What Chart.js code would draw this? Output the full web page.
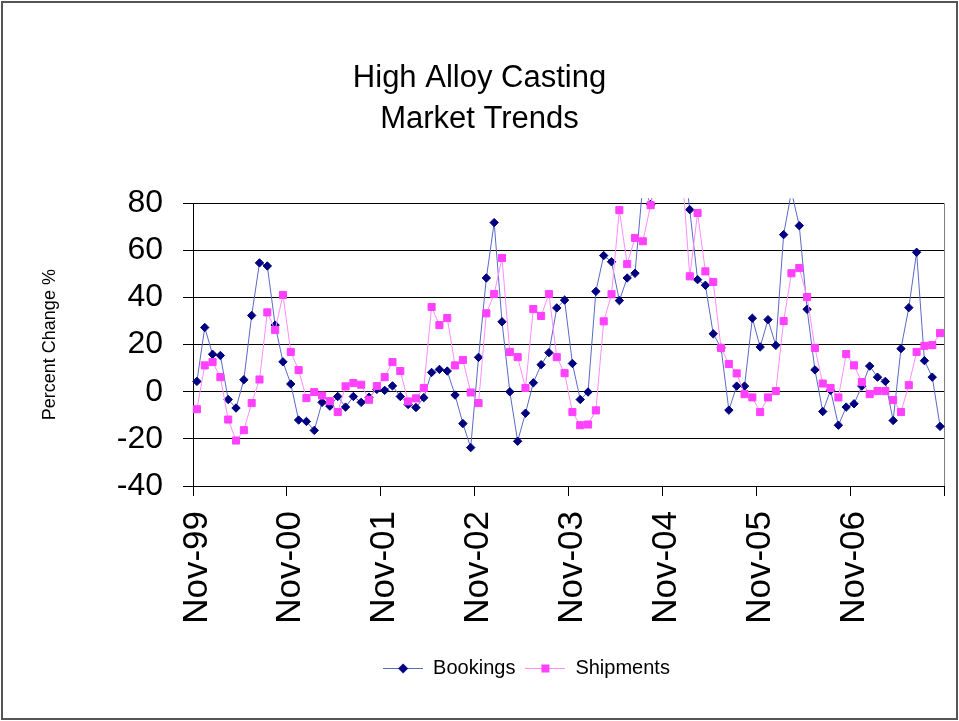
<!DOCTYPE html>
<html>
<head>
<meta charset="utf-8">
<script src="https://cdn.jsdelivr.net/npm/chart.js@4.4.1/dist/chart.umd.min.js"></script>
<style>
  html, body { margin: 0; padding: 0; background: #fff; }
  #wrap { width: 959px; height: 721px; position: relative; }
  canvas { display: block; }
</style>
</head>
<body>
<div id="wrap"><canvas id="c" width="959" height="721"></canvas></div>
<script>
// ---------- DATA ----------
const MONTHS = ['Jan','Feb','Mar','Apr','May','Jun','Jul','Aug','Sep','Oct','Nov','Dec'];
// monthly categories, Nov-99 .. Oct-07
const categories = [];
for (let i = 0; i < 96; i++) {
  const m = (10 + i) % 12;
  const y = 1999 + Math.floor((10 + i) / 12);
  categories.push(MONTHS[m] + '-' + String(y % 100).padStart(2, '0'));
}
const tickLabels = ['Nov-99','Nov-00','Nov-01','Nov-02','Nov-03','Nov-04','Nov-05','Nov-06'];

const bookings = [
  4.4, 27.3, 15.9, 15.4, -3.3, -6.9, 5.1, 32.4, 54.7, 53.4, 28.3, 12.7,
  3.3, -12.0, -12.6, -16.4, -4.5, -6.1, -2.0, -6.5, -2.0, -4.5, -2.3, 1.0,
  0.6, 2.5, -2.0, -5.4, -6.7, -2.5, 8.2, 9.5, 8.8, -1.4, -13.5, -23.7,
  14.6, 48.3, 71.8, 29.7, 0.0, -21.0, -9.1, 3.8, 11.5, 16.6, 35.6, 38.9,
  12.0, -3.3, -0.1, 42.6, 57.8, 55.2, 38.7, 48.3, 50.3, 88, 79.5, 100,
  112, 115, 105, 77.3, 47.6, 45.2, 24.6, 18.6, -7.8, 2.4, 2.4, 31.2,
  19.0, 30.6, 19.7, 66.7, 85, 70.5, 35.0, 9.3, -8.4, 0.6, -14.2, -6.5,
  -5.1, 2.4, 10.9, 6.2, 4.4, -12.2, 18.3, 35.7, 59.2, 13.2, 6.2, -14.7
];
const shipments = [
  -7.4, 11.2, 12.6, 6.2, -11.8, -20.7, -16.3, -4.8, 5.2, 33.7, 26.2, 41.1,
  16.9, 9.2, -2.7, -0.1, -1.6, -4.0, -8.6, 2.3, 3.7, 3.0, -3.4, 2.4,
  6.2, 12.6, 8.8, -4.1, -2.8, 1.6, 36.0, 28.3, 31.3, 11.2, 13.5, -0.3,
  -4.8, 33.3, 41.5, 56.8, 16.9, 14.7, 1.6, 35.1, 32.2, 41.5, 14.7, 7.9,
  -8.6, -14.2, -13.9, -7.9, 29.9, 41.4, 77.1, 54.2, 65.3, 63.9, 79.2, 95,
  105, 110, 95, 49.0, 75.9, 51.1, 46.6, 18.6, 11.8, 7.8, -1.0, -2.4,
  -8.6, -2.4, 0.3, 30.0, 50.3, 52.5, 40.2, 18.6, 3.5, 1.6, -2.4, 16.0,
  11.2, 4.1, -1.0, 0.3, 0.3, -3.5, -8.6, 2.8, 16.9, 19.5, 19.8, 24.9
];
const yTicks = { min: -40, max: 80, step: 20 };

// ---------- STYLE ----------
const BOOK_LINE = '#5a6ac6', BOOK_MARK = '#000080';
const SHIP_LINE = '#ff8cff', SHIP_MARK = '#ff40ff';
const FONT = "'Liberation Sans', Arial, sans-serif";
Chart.defaults.font.family = FONT;
Chart.defaults.color = '#000';

function legendIcon(lineColor, markColor, kind) {
  const c = document.createElement('canvas');
  c.width = 40; c.height = 12;
  const g = c.getContext('2d');
  g.strokeStyle = lineColor; g.lineWidth = 1;
  g.beginPath(); g.moveTo(0, 6.5); g.lineTo(40, 6.5); g.stroke();
  g.fillStyle = markColor;
  g.beginPath();
  if (kind === 'diamond') {
    g.moveTo(20, 1.5); g.lineTo(25, 6.5); g.lineTo(20, 11.5); g.lineTo(15, 6.5); g.closePath();
  } else {
    g.rect(16, 2.5, 8, 8);
  }
  g.fill();
  return c;
}
const legendIcons = [legendIcon(BOOK_LINE, BOOK_MARK, 'diamond'), legendIcon(SHIP_LINE, SHIP_MARK, 'square')];

const frame = {
  id: 'frame',
  beforeDraw(chart) {
    const ctx = chart.ctx;
    ctx.save();
    ctx.fillStyle = '#fff';
    ctx.fillRect(0, 0, chart.width, chart.height);
    ctx.strokeStyle = '#555';
    ctx.lineWidth = 2;
    ctx.strokeRect(2, 2, chart.width - 4, chart.height - 4);
    ctx.restore();
  },
  beforeDatasetsDraw(chart) {
    const a = chart.chartArea, ctx = chart.ctx;
    ctx.save();
    ctx.strokeStyle = '#808080';
    ctx.lineWidth = 1;
    ctx.beginPath();
    ctx.moveTo(Math.round(a.right) + 0.5, a.top);
    ctx.lineTo(Math.round(a.right) + 0.5, a.bottom);
    ctx.stroke();
    ctx.restore();
  }
};
const legendShift = {
  id: 'legendShift',
  afterLayout(chart) {
    if (chart.legend) { chart.legend.left += 47; chart.legend.right += 47; }
  }
};

const CLIP = { left: 6, right: 6, top: 5, bottom: 6 };

new Chart(document.getElementById('c'), {
  type: 'line',
  data: {
    labels: categories,
    datasets: [
      {
        label: 'Bookings', data: bookings, order: 1,
        borderColor: BOOK_LINE, borderWidth: 1, tension: 0,
        pointStyle: 'rectRot', pointRadius: 4.2, pointHoverRadius: 4.2,
        pointBackgroundColor: BOOK_MARK, pointBorderColor: BOOK_MARK, pointBorderWidth: 1,
        clip: CLIP
      },
      {
        label: 'Shipments', data: shipments, order: 0,
        borderColor: SHIP_LINE, borderWidth: 1, tension: 0,
        pointStyle: 'rect', pointRadius: 5, pointHoverRadius: 5,
        pointBackgroundColor: SHIP_MARK, pointBorderColor: SHIP_MARK, pointBorderWidth: 1,
        clip: CLIP
      }
    ]
  },
  options: {
    responsive: false,
    animation: false,
    devicePixelRatio: 1,
    layout: { padding: { left: 0, right: 0, top: 0, bottom: 33 } },
    plugins: {
      tooltip: { enabled: false },
      title: {
        display: true,
        text: ['High Alloy Casting', 'Market Trends'],
        color: '#000',
        font: { size: 31, weight: 'normal', lineHeight: '41px' },
        padding: { top: 58, bottom: 63.3 }
      },
      legend: {
        position: 'bottom',
        labels: {
          color: '#000',
          font: { size: 20 },
          usePointStyle: true,
          pointStyleWidth: 40,
          padding: 10,
          sort: (a, b) => a.datasetIndex - b.datasetIndex,
          generateLabels(chart) {
            const items = Chart.defaults.plugins.legend.labels.generateLabels(chart);
            items.forEach(it => { it.pointStyle = legendIcons[it.datasetIndex]; });
            return items;
          }
        }
      }
    },
    scales: {
      x: {
        type: 'category',
        offset: true,
        grid: {
          offset: true,
          drawOnChartArea: false,
          tickLength: 10,
          tickColor: c => (c.index === undefined || c.index % 12 === 0) ? '#000' : 'rgba(0,0,0,0)'
        },
        border: { color: '#000', width: 1 },
        ticks: {
          autoSkip: false,
          minRotation: 90, maxRotation: 90,
          padding: 15,
          color: '#000',
          font: { size: 35 },
          callback(v) {
            const l = this.getLabelForValue(v);
            return tickLabels.includes(l) ? l : '';
          }
        },
        afterFit(s) { s.height = 162; s.paddingLeft = 0; s.paddingRight = 15; }
      },
      y: {
        min: yTicks.min, max: yTicks.max,
        ticks: { stepSize: yTicks.step, color: '#000', font: { size: 32 }, padding: 20 },
        grid: { color: '#000', lineWidth: 1, tickLength: 10, tickColor: '#000' },
        border: { color: '#000', width: 1 },
        title: {
          display: true, text: 'Percent Change %', color: '#000',
          font: { size: 18 }, padding: { top: 39, bottom: 0 }
        },
        afterFit(s) { s.width = 193; }
      }
    }
  },
  plugins: [frame, legendShift]
});
</script>
</body>
</html>
